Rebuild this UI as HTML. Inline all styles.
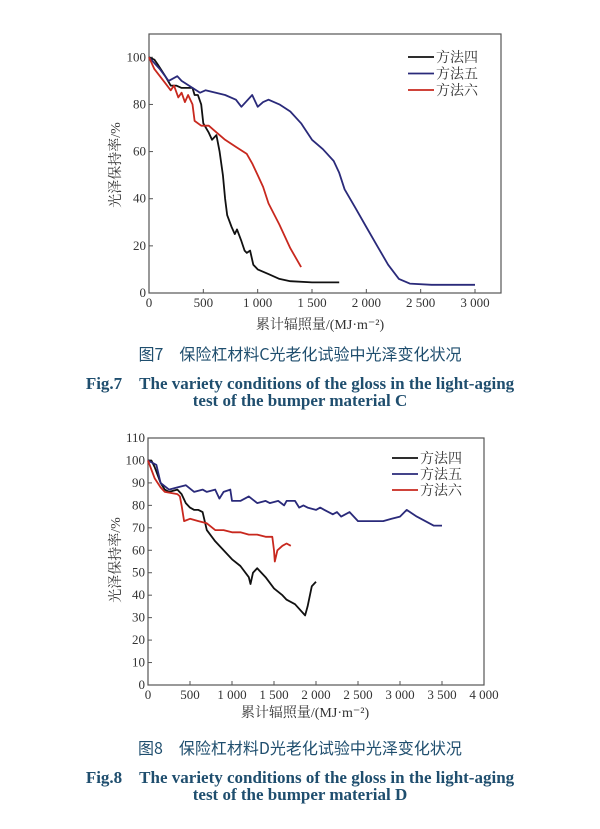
<!DOCTYPE html>
<html><head><meta charset="utf-8">
<style>
body{margin:0;background:#fff;width:600px;height:829px;overflow:hidden}
svg text{font-family:"Liberation Serif","Noto Serif CJK SC",serif}
.cap{position:absolute;left:0;width:600px;text-align:center;color:#1f4e6e;font-family:"Liberation Serif","Noto Serif CJK SC",serif}
</style></head><body>
<svg id="s" width="600" height="829" style="position:absolute;left:0;top:0"></svg>
<div class="cap" style="top:341px;font-size:16px;font-family:'Noto Sans CJK SC',sans-serif">图7　保险杠材料C光老化试验中光泽变化状况</div>
<div class="cap" style="top:369px;font-size:17px;font-weight:bold">Fig.7　The variety conditions of the gloss in the light-aging</div>
<div class="cap" style="top:391px;font-size:17px;font-weight:bold">test of the bumper material C</div>
<div class="cap" style="top:735px;font-size:16px;font-family:'Noto Sans CJK SC',sans-serif">图8　保险杠材料D光老化试验中光泽变化状况</div>
<div class="cap" style="top:763px;font-size:17px;font-weight:bold">Fig.8　The variety conditions of the gloss in the light-aging</div>
<div class="cap" style="top:785px;font-size:17px;font-weight:bold">test of the bumper material D</div>
<script>
const c1Black=[[0,100],[50,99],[80,97],[150,92],[200,88],[250,88],[300,87],[400,87],[420,84],[450,84],[480,80],[500,72],[550,68],[580,65],[620,67],[650,60],[680,50],[700,40],[720,33],[760,28],[790,25],[810,27],[850,22],[880,18],[900,17],[930,18],[960,12],[1000,10],[1100,8],[1200,6],[1300,5],[1500,4.5],[1750,4.5]];
const c1Blue=[[0,100],[100,95],[180,90],[260,92],[300,90],[400,87],[470,85],[520,86],[700,84],[800,82],[850,79],[950,84],[1000,79],[1050,81],[1100,82],[1200,80],[1300,77],[1400,72],[1500,65],[1600,61],[1700,56],[1750,51],[1800,44],[1900,36],[2000,28],[2100,20],[2200,12],[2300,6],[2400,4],[2600,3.5],[3000,3.5]];
const c1Red=[[0,100],[50,95],[150,89],[200,86],[230,88],[270,83],[300,85],[330,81],[360,84],[400,80],[420,73],[480,71],[550,71],[600,69],[700,65],[800,62],[900,59],[950,55],[1000,50],[1050,45],[1100,38],[1200,29],[1300,19],[1400,11]];
const c1XTicks=[0,500,1000,1500,2000,2500,3000];
const c1XLabels=["0","500","1 000","1 500","2 000","2 500","3 000"];
const c1YTicks=[0,20,40,60,80,100];
const c2Black=[[0,100],[40,100],[80,97],[120,93],[150,90],[200,87],[250,86],[350,87],[400,85],[450,81],[500,79],[550,78],[600,78],[650,77],[700,69],[800,64],[900,60],[1000,56],[1100,53],[1200,48],[1220,45],[1250,50],[1300,52],[1400,48],[1500,43],[1600,40],[1650,38],[1750,36],[1870,31],[1900,35],[1950,44],[2000,46]];
const c2Blue=[[0,100],[50,99],[100,98],[150,90],[250,87],[350,88],[450,89],[550,86],[650,87],[700,86],[800,87],[850,83],[900,86],[980,87],[1000,82],[1100,82],[1200,84],[1300,81],[1400,82],[1450,81],[1550,82],[1620,80],[1650,82],[1750,82],[1800,79],[1850,80],[1900,79],[2000,78],[2050,79],[2100,78],[2200,76],[2250,77],[2300,75],[2400,77],[2450,75],[2500,73],[2600,73],[2700,73],[2800,73],[2900,74],[3000,75],[3080,78],[3200,75],[3300,73],[3400,71],[3500,71]];
const c2Red=[[0,100],[80,92],[150,88],[200,86],[350,85],[380,84],[400,80],[430,73],[500,74],[600,73],[700,72],[800,69],[900,69],[1000,68],[1100,68],[1200,67],[1300,67],[1400,66],[1480,66],[1500,60],[1510,55],[1540,60],[1600,62],[1650,63],[1700,62]];
const c2XTicks=[0,500,1000,1500,2000,2500,3000,3500,4000];
const c2XLabels=["0","500","1 000","1 500","2 000","2 500","3 000","3 500","4 000"];
const c2YTicks=[0,10,20,30,40,50,60,70,80,90,100,110];
const legendNames=["方法四","方法五","方法六"];
const colors=["#111","#2a2a7a","#c8281e"];
const NS="http://www.w3.org/2000/svg";
const svg=document.getElementById('s');
function mk(t,a,p){const e=document.createElementNS(NS,t);for(const k in a)e.setAttribute(k,a[k]);(p||svg).appendChild(e);return e;}
function chart(o){
  const g=mk('g',{});
  
  
  const X=v=>o.L+(v-o.xmin)/(o.xmax-o.xmin)*(o.R-o.L);
  const Y=v=>o.B-(v-o.ymin)/(o.ymax-o.ymin)*(o.B-o.T);
  const fr=mk('rect',{x:o.L,y:o.T,width:o.R-o.L,height:o.B-o.T,fill:'none',stroke:'#555','stroke-width':1.2},g);
  
  
  o.xt.forEach((v,i)=>{
    mk('line',{x1:X(v),x2:X(v),y1:o.B,y2:o.B-4,stroke:'#555'},g);
    const t=mk('text',{x:X(v),y:o.B+14,'font-size':13,'text-anchor':'middle',fill:'#333'},g);
    t.textContent=o.xl[i];
    
    
  });
  o.yt.forEach(v=>{
    mk('line',{x1:o.L,x2:o.L+4,y1:Y(v),y2:Y(v),stroke:'#555'},g);
    const t=mk('text',{x:o.L-3,y:Y(v)+4,'font-size':13,'text-anchor':'end',fill:'#333'},g);
    t.textContent=v;
    
    
  });
  const xa=mk('text',{x:o.xlx,y:o.xly,'font-size':14,'text-anchor':'middle',fill:'#333'},g);
  xa.textContent='累计辐照量/(MJ·m⁻²)';
  
  
  const ya=mk('text',{x:0,y:0,'font-size':14,'text-anchor':'middle',fill:'#333',transform:`translate(${o.ylx},${o.yly}) rotate(-90)`},g);
  ya.textContent='光泽保持率/%';
  
  
  o.series.forEach((s,i)=>{
    const p=mk('polyline',{points:s.map(d=>X(d[0]).toFixed(1)+','+Y(d[1]).toFixed(1)).join(' '),fill:'none',stroke:colors[i],'stroke-width':1.8,'stroke-linejoin':'round'},g);
    
    
    const ly=o.legY+i*o.legDy;
    const ll=mk('line',{x1:o.legX,x2:o.legX+26,y1:ly,y2:ly,stroke:colors[i],'stroke-width':1.8},g);
    
    
    const lt=mk('text',{x:o.legX+28,y:ly+5,'font-size':14,fill:'#333'},g);
    lt.textContent=legendNames[i];
    
    
  });
}
chart({name:'chart-fig7',L:149,R:501,T:34,B:293,xmin:0,xmax:3000*(501-149)/(475-149),ymin:0,ymax:100*(293-34)/(293-57.3),
  xt:c1XTicks,xl:c1XLabels,yt:c1YTicks,series:[c1Black,c1Blue,c1Red],
  xlx:320,xly:329,ylx:120,yly:165,legX:408,legY:57,legDy:16.5});
chart({name:'chart-fig8',L:148,R:484,T:438,B:685,xmin:0,xmax:4000,ymin:0,ymax:110,
  xt:c2XTicks,xl:c2XLabels,yt:c2YTicks,series:[c2Black,c2Blue,c2Red],
  xlx:305,xly:717,ylx:120,yly:560,legX:392,legY:458,legDy:16});
</script>
</body></html>
